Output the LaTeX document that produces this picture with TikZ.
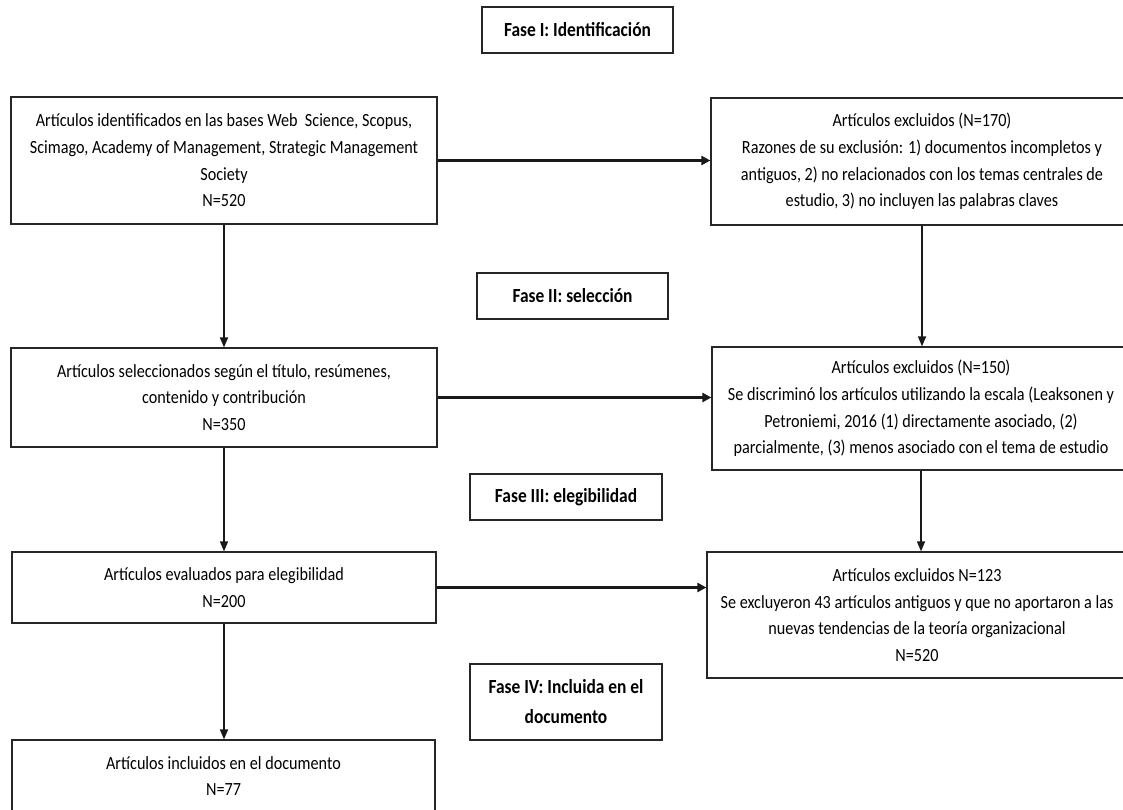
\documentclass[tikz,border=0pt]{standalone}
\usepackage{fontspec}
\setmainfont{Carlito}
\newfontfamily\condfont[FakeStretch=0.87]{Carlito}
\usetikzlibrary{arrows.meta}
\tikzset{
  mainbox/.style={draw=black!85, line width=1.2pt, align=center, inner sep=0pt,
    font=\condfont\fontsize{18.6}{26.7}\selectfont},
  fasebox/.style={draw=black!85, line width=1.4pt, align=center, inner sep=0pt,
    font=\condfont\fontsize{20}{30}\selectfont\bfseries},
  harrow/.style={line width=2.4pt, black!90, -{Triangle[length=9pt,width=9pt]}},
  varrow/.style={line width=1.6pt, black!90, -{Triangle[length=10pt,width=8pt]}}
}
\begin{document}
\begin{tikzpicture}[x=1pt,y=-1pt]
\useasboundingbox (0,0) rectangle (1123,810);
\fill[white] (0,0) rectangle (1123,810);
\clip (0,0) rectangle (1123,810);

% phase labels
\node[fasebox, minimum width=191pt, minimum height=46pt] (f1) at (577.5,30) {Fase I: Identificación};
\node[fasebox, minimum width=191pt, minimum height=46pt] (f2) at (572.5,296) {Fase II: selección};
\node[fasebox, minimum width=192pt, minimum height=46pt] (f3) at (566,497) {Fase III: elegibilidad};
\node[fasebox, minimum width=192pt, minimum height=76pt] (f4) at (566,702) {Fase IV: Incluida en el\\documento};

% main boxes
\node[mainbox, minimum width=426pt, minimum height=127pt] (A) at (224,160.5)
  {Artículos identificados en las bases Web\ \ Science, Scopus,\\Scimago, Academy of Management, Strategic Management\\Society\\N=520};
\node[mainbox, minimum width=422pt, minimum height=127pt] (B) at (922,161.5)
  {Artículos excluidos (N=170)\\Razones de su exclusión: 1) documentos incompletos y\\antiguos, 2) no relacionados con los temas centrales de\\estudio, 3) no incluyen las palabras claves};
\node[mainbox, minimum width=426pt, minimum height=99pt] (C) at (224,397.5)
  {Artículos seleccionados según el título, resúmenes,\\contenido y contribución\\N=350};
\node[mainbox, minimum width=418pt, minimum height=123pt] (D) at (921,408.5)
  {Artículos excluidos (N=150)\\Se discriminó los artículos utilizando la escala (Leaksonen y\\Petroniemi, 2016 (1) directamente asociado, (2)\\parcialmente, (3) menos asociado con el tema de estudio};
\node[mainbox, minimum width=424pt, minimum height=71pt] (E) at (224,587.5)
  {Artículos evaluados para elegibilidad\\N=200};
\node[mainbox, minimum width=420pt, minimum height=126pt] (F) at (917,615)
  {Artículos excluidos N=123\\Se excluyeron 43 artículos antiguos y que no aportaron a las\\nuevas tendencias de la teoría organizacional\\N=520};
\node[mainbox, minimum width=423pt, minimum height=72pt] (G) at (223.5,776)
  {Artículos incluidos en el documento\\N=77};

% connectors
\draw[harrow] (A.east) -- (A.east -| B.west);
\draw[harrow] (C.east) -- (C.east -| D.west);
\draw[harrow] (E.east) -- (E.east -| F.west);
\draw[varrow] (A.south) -- (A.south |- C.north);
\draw[varrow] (C.south) -- (C.south |- E.north);
\draw[varrow] (E.south) -- (E.south |- G.north);
\draw[varrow] (B.south) -- (B.south |- D.north);
\draw[varrow] (D.south) -- (D.south |- F.north);
\end{tikzpicture}
\end{document}
